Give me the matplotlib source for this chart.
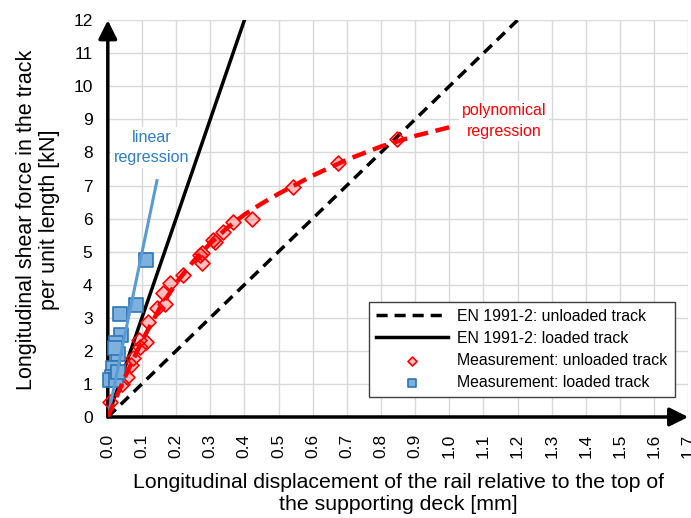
import matplotlib
matplotlib.use('Agg')
import matplotlib.pyplot as plt
import numpy as np

plt.rcParams['font.family'] = ['Liberation Sans', 'DejaVu Sans']

# Design lines EN 1991-2
en_unloaded_x = [0.0, 1.2]
en_unloaded_y = [0.0, 12.0]
en_loaded_x = [0.0, 0.4]
en_loaded_y = [0.0, 12.0]

# Measurements, unloaded track
unl_x = [0.006, 0.043, 0.055, 0.069, 0.074, 0.094, 0.092, 0.113, 0.118, 0.143,
         0.167, 0.162, 0.182, 0.221, 0.270, 0.277, 0.275, 0.309, 0.314, 0.338,
         0.367, 0.421, 0.543, 0.675, 0.846]
unl_y = [0.44, 0.99, 1.22, 1.57, 1.77, 2.13, 2.33, 2.28, 2.88, 3.29,
         3.43, 3.74, 4.04, 4.29, 4.90, 4.65, 4.95, 5.35, 5.30, 5.60,
         5.90, 6.00, 6.95, 7.67, 8.42]

# Measurements, loaded track
lo_x = [0.113, 0.084, 0.035, 0.040, 0.025, 0.030, 0.020, 0.016, 0.011, 0.006, 0.025, 0.030]
lo_y = [4.75, 3.39, 3.11, 2.48, 2.23, 1.92, 2.08, 1.47, 1.22, 1.12, 1.12, 1.37]

# Regression curves
lin_x = [0.0, 0.144]
lin_y = [0.0, 7.15]
poly_x = [0.0, 0.05, 0.1, 0.15, 0.2, 0.25, 0.3, 0.35, 0.4, 0.45, 0.5, 0.6, 0.7, 0.8, 0.9, 1.0]
poly_y = [0.0, 1.2, 2.3, 3.25, 4.05, 4.7, 5.25, 5.72, 6.12, 6.45, 6.75, 7.3, 7.78, 8.18, 8.5, 8.76]

xticks = np.round(np.arange(0, 1.71, 0.1), 1)
yticks = np.arange(0, 13, 1)

fig = plt.figure(figsize=(6.91, 5.18), dpi=100)
ax = fig.add_axes([0.156, 0.195, 0.84, 0.766])

ax.set_xlim(0, 1.7)
ax.set_ylim(0, 12)
ax.set_xticks(xticks)
ax.set_xticklabels(['%.1f' % t for t in xticks], rotation=90, fontsize=12.5)
ax.set_yticks(yticks)
ax.set_yticklabels([str(t) for t in yticks], fontsize=12.5)
ax.tick_params(axis='x', length=0, pad=12)
ax.tick_params(axis='y', length=0, pad=11)
ax.grid(True, color='#D9D9D9', lw=1)
ax.set_axisbelow(True)
for s in ax.spines.values():
    s.set_visible(False)

# axes with arrows
ax.annotate('', xy=(1, 0), xytext=(0, 0), xycoords='axes fraction',
            arrowprops=dict(arrowstyle='-|>', lw=2.5, color='k', mutation_scale=28, shrinkA=0, shrinkB=0))
ax.annotate('', xy=(0, 1), xytext=(0, 0), xycoords='axes fraction',
            arrowprops=dict(arrowstyle='-|>', lw=2.5, color='k', mutation_scale=28, shrinkA=0, shrinkB=0))

ax.plot(en_unloaded_x, en_unloaded_y, color='k', lw=2.5, ls=(0, (3.2, 2)), label='EN 1991-2: unloaded track')
ax.plot(en_loaded_x, en_loaded_y, color='k', lw=2.5, label='EN 1991-2: loaded track')

ax.scatter(unl_x, unl_y, marker='D', s=58, facecolor=(1, 0, 0, 0.25), edgecolor='#FF0000',
           lw=1.2, zorder=3, clip_on=False, label='Measurement: unloaded track')
ax.scatter(lo_x, lo_y, marker='s', s=95, facecolor='#7EB0DE', edgecolor='#2E75B6',
           lw=1.2, zorder=3, clip_on=False, label='Measurement: loaded track')
ax.plot(lin_x, lin_y, color='#5B9BD5', lw=2.2, zorder=3.5)
ax.plot(poly_x, poly_y, color='#FF0000', lw=3.2, ls=(0, (3.2, 1.7)), zorder=4)

ax.text(0.129, 8.15, 'linear\nregression', color='#2E7DC8', fontsize=11.6, ha='center', va='center',
        linespacing=1.45, zorder=1, bbox=dict(facecolor='white', edgecolor='none', pad=2))
ax.text(1.161, 8.95, 'polynomical\nregression', color='#FF0000', fontsize=11.5, ha='center', va='center',
        linespacing=1.45, zorder=1, bbox=dict(facecolor='white', edgecolor='none', pad=2))

leg = ax.legend(loc='lower right', bbox_to_anchor=(0.99, 0.03), fontsize=11.4, frameon=True,
                fancybox=False, edgecolor='#404040', framealpha=1, handlelength=4.5,
                handletextpad=0.6, labelspacing=0.45, markerscale=0.6, borderpad=0.45)
leg.get_frame().set_linewidth(1)

ax.set_xlabel('Longitudinal displacement of the rail relative to the top of\nthe supporting deck [mm]',
              fontsize=15.3, linespacing=1.25)
ax.xaxis.set_label_coords(0.5, -0.14)
ax.xaxis.label.set_va('top')
ax.set_ylabel('Longitudinal shear force in the track\nper unit length [kN]',
              fontsize=15.5, linespacing=1.1)
ax.yaxis.set_label_coords(-0.083, 0.496)

fig.savefig('out.png', dpi=100)
